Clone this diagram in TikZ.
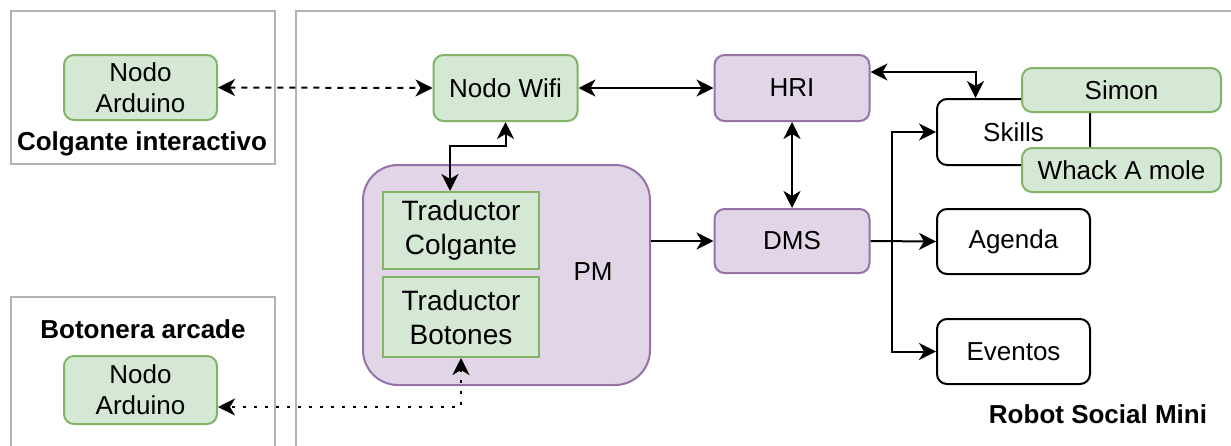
\documentclass[tikz,border=0pt]{standalone}
\usepackage{fontspec}
\setmainfont{Liberation Sans}
\usetikzlibrary{arrows.meta,calc}

\definecolor{gfill}{HTML}{D5E8D4}
\definecolor{gline}{HTML}{82B366}
\definecolor{pfill}{HTML}{E1D5E7}
\definecolor{pline}{HTML}{9673A6}
\definecolor{frame}{HTML}{B3B3B3}

\tikzset{
  base/.style={draw, line width=2pt, inner sep=0pt, align=center,
    font=\fontsize{26}{31}\selectfont},
  greenbox/.style={base, fill=gfill, draw=gline, rounded corners=10pt},
  greensq/.style={base, fill=gfill, draw=gline, font=\fontsize{28}{34}\selectfont},
  purplebox/.style={base, fill=pfill, draw=pline, rounded corners=10pt},
  plainbox/.style={base, fill=white, draw=black, rounded corners=10pt},
  groupframe/.style={draw=frame, line width=2pt},
  grouplabel/.style={font=\fontsize{26}{31}\selectfont\bfseries},
  head/.tip={Stealth[length=17pt,width=17pt,inset=5pt]},
  link/.style={line width=2pt, head-head},
  onelink/.style={line width=2pt, -head},
}

\begin{document}
\begin{tikzpicture}[x=1pt,y=-1pt]
\useasboundingbox (0,0) rectangle (1231,445);
\clip (0,0) rectangle (1231,445);

% group frames
\draw[groupframe] (11,11) rectangle (275,164);
\draw[groupframe] (11,297) rectangle (275,470);
\draw[groupframe] (296,11) rectangle (1260,470);

\node[grouplabel] (lblcol) at (142,144) {Colgante interactivo};
\node[grouplabel] (lblbot) at (143,329) {Botonera arcade};
\node[grouplabel] (lblrob) at (1098,414) {Robot Social Mini};

% pendant and button-panel nodes
\node[greenbox, minimum width=153pt, minimum height=65pt] (ardA) at (140.5,87.5) {Nodo\\Arduino};
\node[greenbox, minimum width=153pt, minimum height=68pt] (ardB) at (140.5,390) {Nodo\\Arduino};

% robot side
\node[greenbox, minimum width=144pt, minimum height=66pt] (wifi) at (505.5,88) {Nodo Wifi};
\node[purplebox, minimum width=155pt, minimum height=66pt] (hri) at (792,88) {HRI};
\node[purplebox, minimum width=155pt, minimum height=64pt] (dms) at (792,241) {DMS};

\node[purplebox, rounded corners=35pt, minimum width=287pt, minimum height=220pt] (pm) at (506.5,275) {};
\node[base, draw=none] (pmlbl) at (593,272) {PM};
\node[greensq, minimum width=156pt, minimum height=77pt] (tc) at (461,230.5) {Traductor\\Colgante};
\node[greensq, minimum width=156pt, minimum height=80pt] (tb) at (461,317) {Traductor\\Botones};

\node[plainbox, minimum width=153pt, minimum height=66pt] (skills) at (1013.5,132) {Skills};
\node[greenbox, minimum width=199pt, minimum height=44pt] (simon) at (1121.5,90) {Simon};
\node[greenbox, minimum width=199pt, minimum height=44pt] (whack) at (1121.5,170) {Whack A mole};
\node[plainbox, minimum width=153pt, minimum height=65pt] (agenda) at (1013.5,241.5) {Agenda};
\node[plainbox, minimum width=153pt, minimum height=65pt] (eventos) at (1013.5,351.5) {Eventos};

% connectors
\draw[link, dash pattern=on 6pt off 6pt] (ardA.east) -- (wifi.west);
\draw[link] (wifi.east) -- (hri.west);
\draw[link] (hri.south) -- (dms.north);
\draw[onelink] (pm.east |- dms.west) -- (dms.west);
\draw[link] ([xshift=-11pt]tc.north) -- ++(0,-45) -| (wifi.south);
\draw[link] ([yshift=16pt]hri.east) -| ([xshift=-38pt]skills.north);

\coordinate (bus) at (892,241);
\draw[onelink] (dms.east) -- (agenda.west);
\draw[onelink] (bus) |- (skills.west);
\draw[onelink] (bus) |- (eventos.west);

\draw[link, dash pattern=on 2.5pt off 8.5pt, line width=2.5pt] (tb.south) |- ([yshift=-17pt]ardB.east);
\end{tikzpicture}
\end{document}
